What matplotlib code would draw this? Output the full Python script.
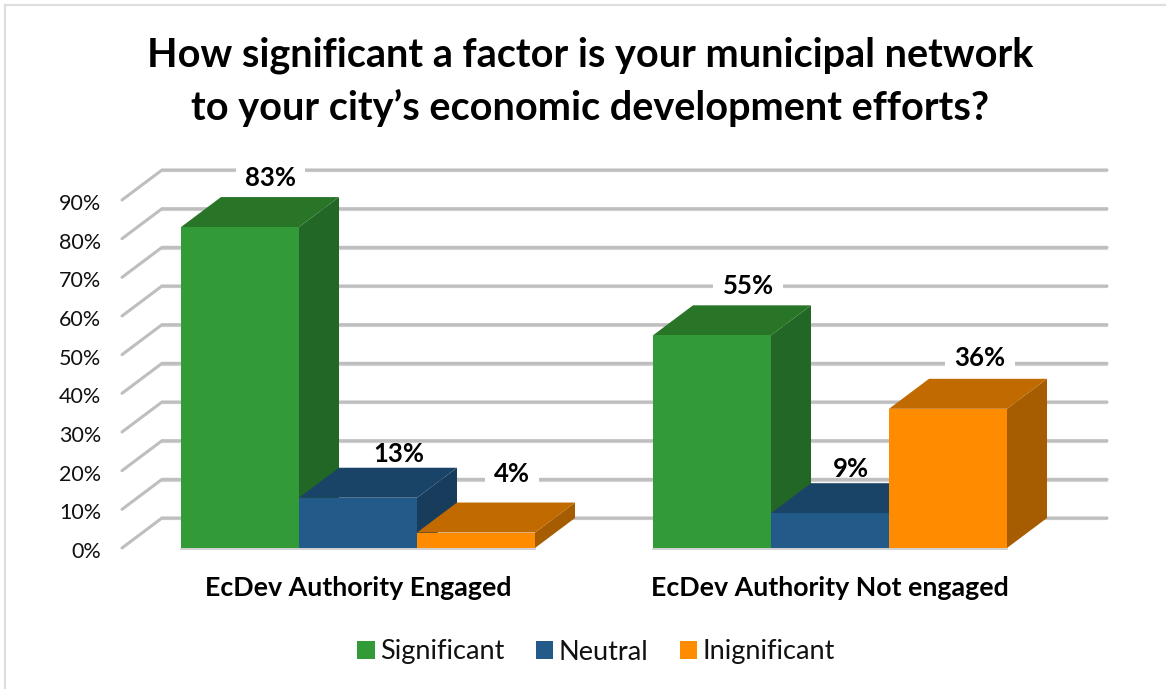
import matplotlib
matplotlib.use("Agg")
import matplotlib.pyplot as plt
from matplotlib.patches import Polygon, Rectangle
from matplotlib.path import Path

plt.rcParams['font.family'] = ['Lato', 'DejaVu Sans']

# ---- data ----
categories = ["EcDev Authority Engaged", "EcDev Authority Not engaged"]
series_names = ["Significant", "Neutral", "Inignificant"]
significant = [83, 55]
neutral = [13, 9]
insignificant = [4, 36]
y_ticks = [0, 10, 20, 30, 40, 50, 60, 70, 80, 90]
title = "How significant a factor is your municipal network\nto your city\u2019s economic development efforts?"

# ---- style ----
W, H = 1166, 689
FRONT = ["#329B37", "#225A8A", "#FF8C00"]
TOP = ["#287528", "#1A4368", "#C06A00"]
SIDE = ["#226725", "#183C5C", "#A65C00"]
GRID = "#BEBEBE"
DEPTH_X = 40 / 118      # bar-width units
DEPTH_Y = 30 / (348 / 90)  # percent units
GROUP_STEP = 4
# label offsets from the bar's front-top centre, in pixels, and whether a white box backs the label
LABEL_OFFSETS = [[(30, 49), (41, 44), (36, 59)], [(36, 49), (21, 44), (32, 51)]]
LABEL_BOXED = [[True, False, True], [True, False, True]]


def label_box(x0, y0, width, height, mutation_size):
    """White label backing: 9 px padding, trimmed below so it does not bite into the bar top."""
    left, right = x0 - 9, x0 + width + 9
    bottom, top = y0 - 6, y0 + height + 9
    return Path([(left, bottom), (right, bottom), (right, top), (left, top), (left, bottom)], closed=True)


fig = plt.figure(figsize=(W / 100, H / 100), dpi=100, facecolor="white")
ax = fig.add_axes([122 / W, 1 - 548 / H, (1107 - 122) / W, 348 / H])
ax.set_xlim(-59 / 118, 926 / 118)
ax.set_ylim(0, 90)
ax.axis("off")

# chart border
fig.add_artist(plt.Line2D([5 / W, 5 / W], [0, 1 - 5 / H], color="#DEDEDE", lw=1.6))
fig.add_artist(plt.Line2D([5 / W, 1], [1 - 5 / H, 1 - 5 / H], color="#DEDEDE", lw=1.6))

# wall gridlines
x_left = ax.get_xlim()[0]
x_right = ax.get_xlim()[1]
for t in y_ticks:
    ax.plot([x_left + DEPTH_X, x_right], [t + DEPTH_Y - 0.35] * 2, color="#D4D4D4", lw=1.6,
            clip_on=False, zorder=1, solid_capstyle="round")
    ax.plot([x_left, x_left + DEPTH_X, x_right], [t, t + DEPTH_Y, t + DEPTH_Y], color=GRID, lw=2.2,
            clip_on=False, zorder=1.1, solid_capstyle="round", solid_joinstyle="miter")
    ax.annotate(f"{t}%", (x_left, t), xytext=(-21, -4), textcoords="offset pixels",
                ha="right", va="center", fontsize=15.5, color="#111111", annotation_clip=False)

# bars, drawn left to right so that each front hides its neighbour's side
z = 2
for g, vals in enumerate(zip(significant, neutral, insignificant)):
    for s, v in enumerate(vals):
        x0 = g * GROUP_STEP + s
        x1 = x0 + 1
        side = Polygon([(x1, 0), (x1 + DEPTH_X, DEPTH_Y), (x1 + DEPTH_X, v + DEPTH_Y), (x1, v)],
                       closed=True, fc=SIDE[s], ec="none", clip_on=False, zorder=z)
        top = Polygon([(x0, v), (x0 + DEPTH_X, v + DEPTH_Y), (x1 + DEPTH_X, v + DEPTH_Y), (x1, v)],
                      closed=True, fc=TOP[s], ec="none", clip_on=False, zorder=z)
        front = Rectangle((x0, 0), 1, v, fc=FRONT[s], ec="none", clip_on=False, zorder=z + 0.1)
        ax.add_patch(side)
        ax.add_patch(top)
        ax.add_patch(front)
        z += 0.2

# base shadow line
ax.plot([0, 3], [-0.15, -0.15], color="#C8C8C8", lw=1.2, clip_on=False, zorder=1.5)
ax.plot([4, 7], [-0.15, -0.15], color="#C8C8C8", lw=1.2, clip_on=False, zorder=1.5)

# data labels
for g, vals in enumerate(zip(significant, neutral, insignificant)):
    for s, v in enumerate(vals):
        box = dict(boxstyle=label_box, fc="white", ec="none") if LABEL_BOXED[g][s] else None
        ax.annotate(f"{v}%", (g * GROUP_STEP + s + 0.5, v), xytext=LABEL_OFFSETS[g][s],
                    textcoords="offset pixels", ha="center", va="center",
                    fontsize=18.5, fontweight="bold", color="black", zorder=10,
                    annotation_clip=False, bbox=box)

# category labels
for g, name in enumerate(categories):
    ax.annotate(name, (g * GROUP_STEP + 1.5, 0), xytext=(0, -40), textcoords="offset pixels",
                ha="center", va="center", fontsize=19.25, fontweight="bold", color="black",
                annotation_clip=False)

# title
fig.text(590 / W, 1 - 82 / H, title, ha="center", va="center", fontsize=28.5, fontweight="bold",
         color="black", linespacing=1.47)

# legend
handles = [Rectangle((0, 0), 1, 1, fc=c, ec="none") for c in FRONT]
fig.legend(handles, series_names, loc="center", bbox_to_anchor=(596 / W, 1 - 652 / H), ncol=3,
           frameon=False, fontsize=19.5, handlelength=0.65, handleheight=0.65,
           handletextpad=0.2, columnspacing=1.15, labelcolor="#111111")

fig.savefig("out.png", dpi=100, facecolor="white")
